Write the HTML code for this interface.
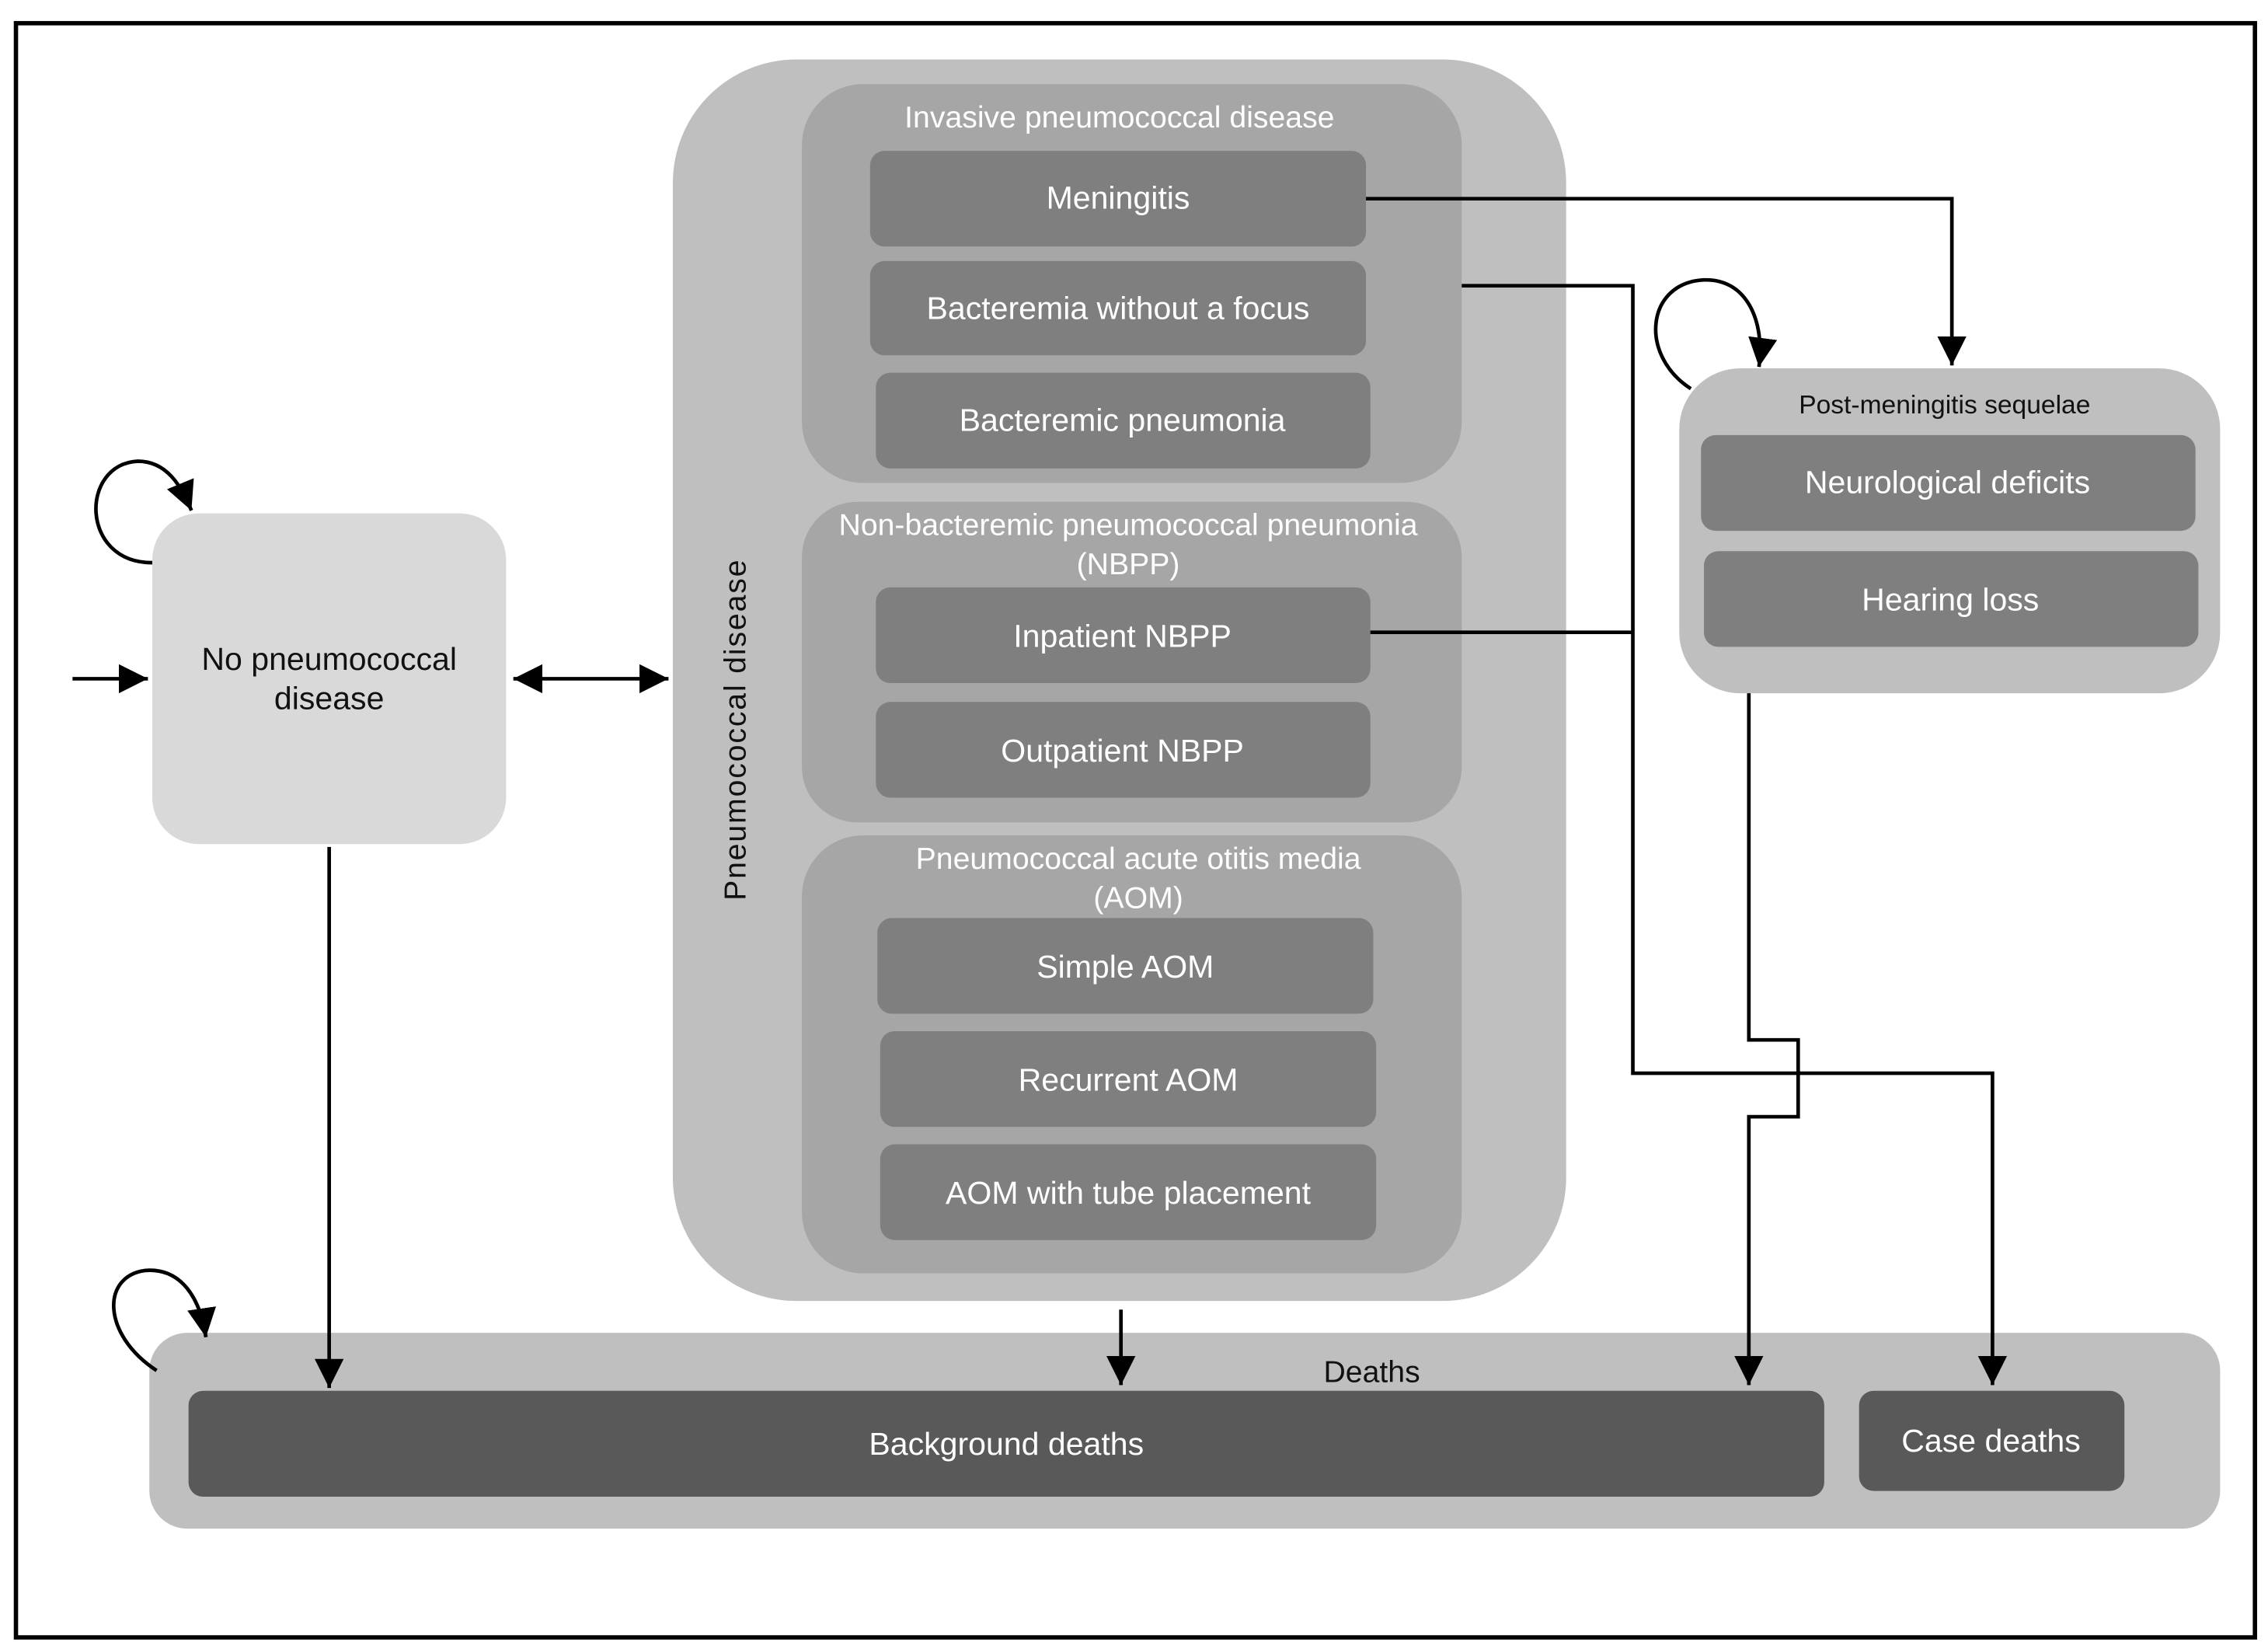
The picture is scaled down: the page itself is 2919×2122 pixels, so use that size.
<!DOCTYPE html>
<html><head><meta charset="utf-8"><style>
html,body{margin:0;padding:0;background:#fff;}
svg{display:block;}
text{font-family:"Liberation Sans Narrow","Liberation Sans",sans-serif;}
</style></head><body>
<svg width="2919" height="2122" viewBox="0 0 1564 1137" preserveAspectRatio="none" xmlns="http://www.w3.org/2000/svg">
<defs>
<marker id="a" viewBox="0 0 10 10" refX="10" refY="5" markerWidth="5" markerHeight="5" orient="auto-start-reverse" markerUnits="userSpaceOnUse"><path d="M0,0 L10,5 L0,10 z" fill="#000"/></marker>
<marker id="b" viewBox="0 0 10 10" refX="10" refY="5" markerWidth="20" markerHeight="20" orient="auto-start-reverse" markerUnits="userSpaceOnUse"><path d="M0,0 L10,5 L0,10 z" fill="#000"/></marker>
</defs>
<rect x="11" y="16" width="1544" height="1113" fill="#fff" stroke="#000" stroke-width="3"/>

<!-- No pneumococcal disease -->
<rect x="105" y="354" width="244" height="228" rx="32" fill="#d9d9d9"/>
<text x="227" y="462" font-size="22" text-anchor="middle" fill="#111">No pneumococcal</text>
<text x="227" y="489" font-size="22" text-anchor="middle" fill="#111">disease</text>

<!-- Pneumococcal disease -->
<rect x="464" y="41" width="616" height="856" rx="85" fill="#bfbfbf"/>
<text transform="translate(514,503) rotate(-90)" font-size="21" text-anchor="middle" fill="#111" font-family="Liberation Sans,sans-serif" letter-spacing="1">Pneumococcal disease</text>

<rect x="553" y="58" width="455" height="275" rx="42" fill="#a6a6a6"/>
<text x="772" y="88" font-size="21" text-anchor="middle" fill="#fff">Invasive  pneumococcal disease</text>
<rect x="600" y="104" width="342" height="66" rx="10" fill="#7f7f7f"/>
<text x="771" y="144" font-size="22" text-anchor="middle" fill="#fff">Meningitis</text>
<rect x="600" y="180" width="342" height="65" rx="10" fill="#7f7f7f"/>
<text x="771" y="220" font-size="22" text-anchor="middle" fill="#fff">Bacteremia without a focus</text>
<rect x="604" y="257" width="341" height="66" rx="10" fill="#7f7f7f"/>
<text x="774" y="297" font-size="22" text-anchor="middle" fill="#fff">Bacteremic pneumonia</text>

<rect x="553" y="346" width="455" height="221" rx="38" fill="#a6a6a6"/>
<text x="778" y="369" font-size="21" text-anchor="middle" fill="#fff">Non-bacteremic pneumococcal pneumonia</text>
<text x="778" y="396" font-size="21" text-anchor="middle" fill="#fff">(NBPP)</text>
<rect x="604" y="405" width="341" height="66" rx="10" fill="#7f7f7f"/>
<text x="774" y="446" font-size="22" text-anchor="middle" fill="#fff">Inpatient  NBPP</text>
<rect x="604" y="484" width="341" height="66" rx="10" fill="#7f7f7f"/>
<text x="774" y="525" font-size="22" text-anchor="middle" fill="#fff">Outpatient NBPP</text>

<rect x="553" y="576" width="455" height="302" rx="42" fill="#a6a6a6"/>
<text x="785" y="599" font-size="21" text-anchor="middle" fill="#fff">Pneumococcal acute otitis media</text>
<text x="785" y="626" font-size="21" text-anchor="middle" fill="#fff">(AOM)</text>
<rect x="605" y="633" width="342" height="66" rx="10" fill="#7f7f7f"/>
<text x="776" y="674" font-size="22" text-anchor="middle" fill="#fff">Simple AOM</text>
<rect x="607" y="711" width="342" height="66" rx="10" fill="#7f7f7f"/>
<text x="778" y="752" font-size="22" text-anchor="middle" fill="#fff">Recurrent AOM</text>
<rect x="607" y="789" width="342" height="66" rx="10" fill="#7f7f7f"/>
<text x="778" y="830" font-size="22" text-anchor="middle" fill="#fff">AOM with tube placement</text>

<!-- Post-meningitis -->
<rect x="1158" y="254" width="373" height="224" rx="42" fill="#bfbfbf"/>
<text x="1341" y="285" font-size="18" text-anchor="middle" fill="#111">Post-meningitis sequelae</text>
<rect x="1173" y="300" width="341" height="66" rx="10" fill="#7f7f7f"/>
<text x="1343" y="340" font-size="22" text-anchor="middle" fill="#fff">Neurological deficits</text>
<rect x="1175" y="380" width="341" height="66" rx="10" fill="#7f7f7f"/>
<text x="1345" y="421" font-size="22" text-anchor="middle" fill="#fff">Hearing loss</text>

<!-- Deaths -->
<rect x="103" y="919" width="1428" height="135" rx="26" fill="#bfbfbf"/>
<text x="946" y="953" font-size="21" text-anchor="middle" fill="#111">Deaths</text>
<rect x="130" y="959" width="1128" height="73" rx="10" fill="#595959"/>
<text x="694" y="1003" font-size="22" text-anchor="middle" fill="#fff">Background deaths</text>
<rect x="1282" y="959" width="183" height="69" rx="10" fill="#595959"/>
<text x="1373" y="1001" font-size="22" text-anchor="middle" fill="#fff">Case deaths</text>

<!-- connectors -->
<g fill="none" stroke="#000" stroke-width="2.5">
<path d="M942,137 H1346 V252" marker-end="url(#b)"/>
<path d="M1008,197 H1126 V740 H1374 V955" marker-end="url(#b)"/>
<path d="M945,436 H1126"/>
<path d="M1206,478 V717 H1240 V770 H1206 V955" marker-end="url(#b)"/>
<path d="M227,584 V957" marker-end="url(#b)"/>
<path d="M773,903 V955" marker-end="url(#b)"/>
<path d="M50,468 H102" marker-end="url(#b)"/>
<path d="M354,468 H461" marker-start="url(#b)" marker-end="url(#b)"/>
<path d="M105,388 C55,388 55,320 95,318 C115,318 125,335 132,352" marker-end="url(#b)"/>
<path d="M108,945 C70,920 70,880 100,876 C125,874 138,895 142,922" marker-end="url(#b)"/>
<path d="M1166,268 C1130,245 1135,195 1175,193 C1205,192 1217,222 1213,253" marker-end="url(#b)"/>
</g>
</svg>
</body></html>
